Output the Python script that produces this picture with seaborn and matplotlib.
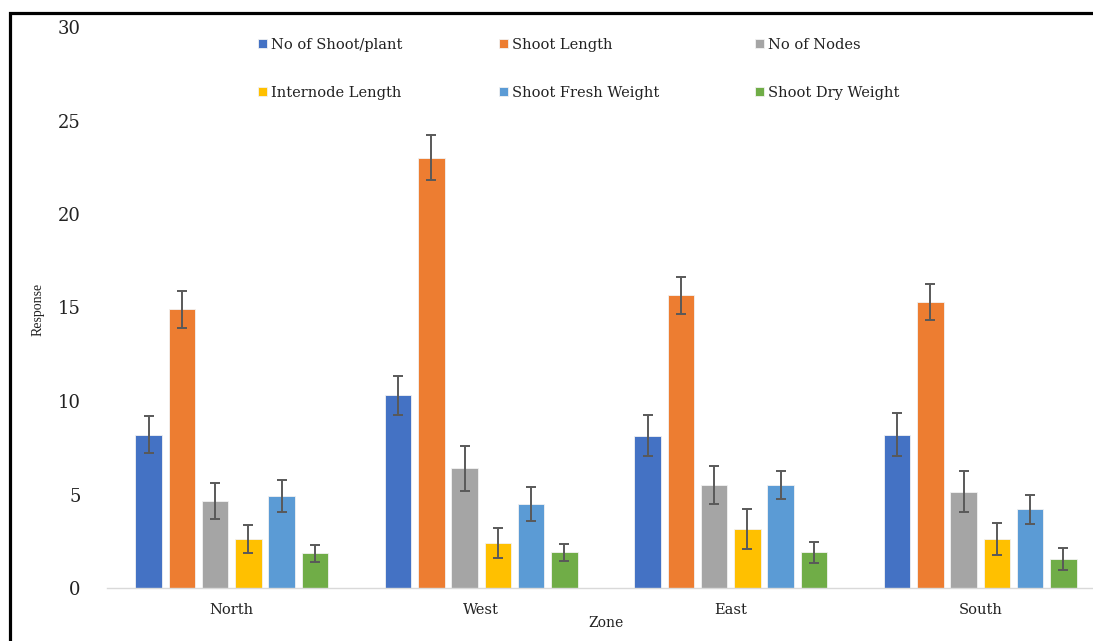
import matplotlib
matplotlib.use("Agg")
import matplotlib.pyplot as plt
from matplotlib.patches import Rectangle
import seaborn as sns
import pandas as pd

zones = ["North", "West", "East", "South"]
traits = ["No of Shoot/plant", "Shoot Length", "No of Nodes",
          "Internode Length", "Shoot Fresh Weight", "Shoot Dry Weight"]
shoots_per_plant = [8.2, 10.3, 8.15, 8.2]
shoot_length = [14.9, 23.0, 15.65, 15.3]
no_of_nodes = [4.65, 6.4, 5.5, 5.15]
internode_length = [2.6, 2.4, 3.15, 2.6]
shoot_fresh_weight = [4.9, 4.5, 5.5, 4.2]
shoot_dry_weight = [1.85, 1.9, 1.9, 1.55]

err_shoots_per_plant = [1.0, 1.05, 1.1, 1.15]
err_shoot_length = [1.0, 1.2, 1.0, 0.95]
err_no_of_nodes = [0.95, 1.2, 1.0, 1.1]
err_internode_length = [0.75, 0.8, 1.05, 0.85]
err_shoot_fresh_weight = [0.85, 0.9, 0.75, 0.8]
err_shoot_dry_weight = [0.45, 0.45, 0.55, 0.6]

colors = ["#4472C4", "#ED7D31", "#A5A5A5", "#FFC000", "#5B9BD5", "#70AD47"]

values = [shoots_per_plant, shoot_length, no_of_nodes,
          internode_length, shoot_fresh_weight, shoot_dry_weight]
errors = [err_shoots_per_plant, err_shoot_length, err_no_of_nodes,
          err_internode_length, err_shoot_fresh_weight, err_shoot_dry_weight]

rows = []
for t, vals in zip(traits, values):
    for z, v in zip(zones, vals):
        rows.append({"Zone": z, "Trait": t, "Response": v})
df = pd.DataFrame(rows)

sns.set_theme(style="white")
plt.rcParams["font.family"] = ["DejaVu Serif"]

fig = plt.figure(figsize=(10.93, 6.41), dpi=100)
ax = fig.add_axes([107 / 1093, 53 / 641, 998 / 1093, 561 / 641])

sns.barplot(data=df, x="Zone", y="Response", hue="Trait", order=zones,
            hue_order=traits, palette=colors, saturation=1, width=0.8,
            gap=0.2, errorbar=None, ax=ax, edgecolor="#F2F2F2",
            linewidth=0.6)

for cont, errs in zip(ax.containers, errors):
    xs = [p.get_x() + p.get_width() / 2 for p in cont.patches]
    hs = [p.get_height() for p in cont.patches]
    ax.errorbar(xs, hs, yerr=errs, fmt="none", ecolor="#595959",
                elinewidth=1.4, capsize=3.8, capthick=1.4, zorder=5)

ax.set_ylim(0, 30)
ax.set_yticks([0, 5, 10, 15, 20, 25, 30])
ax.set_xlim(-0.5, 3.5)
for s in ["top", "right", "left"]:
    ax.spines[s].set_visible(False)
ax.spines["bottom"].set_color("#D9D9D9")
ax.spines["bottom"].set_linewidth(1.0)
ax.tick_params(axis="y", length=0, pad=19, labelsize=13, labelcolor="#222222")
ax.tick_params(axis="x", length=0, pad=11, labelsize=10.5, labelcolor="#222222")
ax.grid(False)

ax.set_xlabel("Zone", fontsize=10, color="#222222")
ax.xaxis.set_label_coords(0.5, -0.05)
ax.set_ylabel("Response", fontsize=10, color="#222222",
              family=["Liberation Serif"])
ax.yaxis.set_label_coords(-0.063, 0.497)

handles, labels = ax.get_legend_handles_labels()
if ax.legend_ is not None:
    ax.legend_.remove()
order = [0, 3, 1, 4, 2, 5]
fig.legend([handles[i] for i in order], [labels[i] for i in order],
           loc="upper left", bbox_to_anchor=(258 / 1093, 1 - 38 / 641),
           ncol=3, frameon=False, fontsize=10.5, handlelength=0.6,
           handleheight=0.6, handletextpad=0.3, labelspacing=2.3,
           columnspacing=6.6, borderpad=0, borderaxespad=0,
           labelcolor="#222222")

fig.patches.append(Rectangle((10.3 / 1093, -0.2), 1.3, 1.2 - 13.3 / 641,
                             transform=fig.transFigure, fill=False,
                             edgecolor="black", linewidth=2.3, zorder=10))

fig.savefig("out.png", dpi=100)
